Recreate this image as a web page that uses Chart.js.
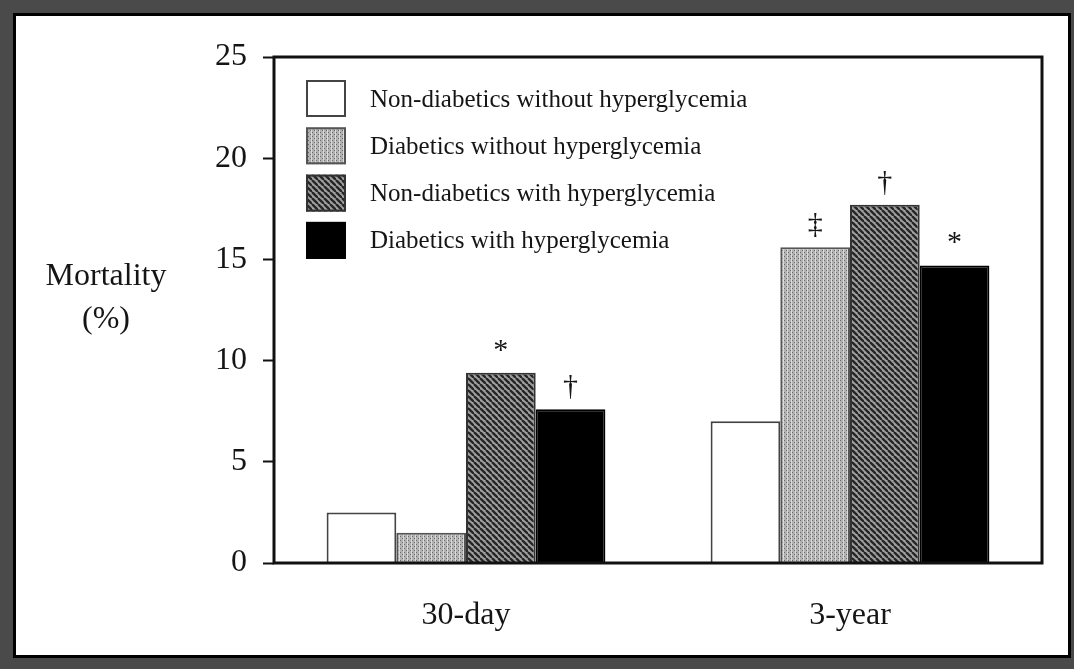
<!DOCTYPE html>
<html>
<head>
<meta charset="utf-8">
<script src="https://cdn.jsdelivr.net/npm/chart.js@4/dist/chart.umd.min.js"></script>
<style>
	body { margin: 0; background: #4a4a4a; width: 1074px; height: 669px; overflow: hidden; position: relative; }
	#frame { position: absolute; left: 13px; top: 13px; width: 1052px; height: 639px; border: 3px solid #000; background: #fff; }
	#chart01 { position: absolute; left: 0; top: 0; }
</style>
</head>
<body>
<div id="frame"></div>
<canvas id="chart01" width="1074" height="669"></canvas>
<script>
const categories = ["30-day", "3-year"];

const nonDiabNoHyper = [2.5, 7.0];
const diabNoHyper = [1.5, 15.6];
const nonDiabHyper = [9.4, 17.7];
const diabHyper = [7.6, 14.7];

// significance marks drawn above each bar
const marksNonDiabNoHyper = ["", ""];
const marksDiabNoHyper = ["", "‡"];
const marksNonDiabHyper = ["*", "†"];
const marksDiabHyper = ["†", "*"];

const serif = "'Liberation Serif', 'Times New Roman', serif";
const ink = "#151515";

function dotPattern() {
	const c = document.createElement("canvas");
	c.width = 4;
	c.height = 4;
	const g = c.getContext("2d");
	g.fillStyle = "#b2b2b2";
	g.fillRect(0, 0, 4, 4);
	g.fillStyle = "#dadada";
	g.fillRect(3, 0, 1, 4);
	g.fillStyle = "#6a6a6a";
	g.fillRect(0, 0, 1, 1);
	g.fillRect(2, 2, 1, 1);
	return g.createPattern(c, "repeat");
}

function hatchPattern() {
	const s = 6;
	const c = document.createElement("canvas");
	c.width = s;
	c.height = s;
	const g = c.getContext("2d");
	g.fillStyle = "#a0a0a0";
	g.fillRect(0, 0, s, s);
	g.strokeStyle = "#262626";
	g.lineWidth = 2.4;
	for (const k of [-s, 0, s]) {
		g.beginPath();
		g.moveTo(k, 0);
		g.lineTo(k + s, s);
		g.stroke();
	}
	return g.createPattern(c, "repeat");
}

const data = {
	labels: categories,
	datasets: [
		{ label: "Non-diabetics without hyperglycemia", data: nonDiabNoHyper, marks: marksNonDiabNoHyper, backgroundColor: "#ffffff", borderColor: "#444" },
		{ label: "Diabetics without hyperglycemia", data: diabNoHyper, marks: marksDiabNoHyper, backgroundColor: dotPattern(), borderColor: "#555" },
		{ label: "Non-diabetics with hyperglycemia", data: nonDiabHyper, marks: marksNonDiabHyper, backgroundColor: hatchPattern(), borderColor: "#333" },
		{ label: "Diabetics with hyperglycemia", data: diabHyper, marks: marksDiabHyper, backgroundColor: "#000000", borderColor: "#000" },
	],
};

// box around the plot, legend inside it, marks above bars, y title
const decorations = {
	id: "decorations",
	afterDraw(chart) {
		const { ctx, chartArea: a } = chart;
		ctx.save();

		ctx.fillStyle = ink;
		ctx.font = "30px " + serif;
		ctx.textAlign = "center";
		ctx.textBaseline = "middle";
		chart.data.datasets.forEach((ds, i) => {
			chart.getDatasetMeta(i).data.forEach((bar, j) => {
				if (ds.marks[j]) ctx.fillText(ds.marks[j], bar.x, bar.y - 22);
			});
		});

		const mid = (a.top + a.bottom) / 2;
		ctx.font = "32px " + serif;
		ctx.fillText("Mortality", a.left - 168, mid - 33);
		ctx.fillText("(%)", a.left - 168, mid + 10);

		ctx.textAlign = "left";
		ctx.font = "25px " + serif;
		chart.data.datasets.forEach((ds, i) => {
			const x = a.left + 32;
			const y = a.top + 23 + i * 47.3;
			ctx.fillStyle = ds.backgroundColor;
			ctx.fillRect(x, y, 40, 37);
			ctx.strokeStyle = ds.borderColor;
			ctx.lineWidth = 2;
			ctx.strokeRect(x + 1, y + 1, 38, 35);
			ctx.fillStyle = ink;
			ctx.fillText(ds.label, a.left + 96, y + 20);
		});

		ctx.strokeStyle = "#111";
		ctx.lineWidth = 3;
		ctx.strokeRect(a.left, a.top, a.right - a.left, a.bottom - a.top);
		ctx.restore();
	},
};

const options = {
	responsive: false,
	animation: false,
	layout: {
		padding: { left: 20, top: 57, right: 32, bottom: 36 },
	},
	plugins: {
		legend: { display: false },
		tooltip: { enabled: false },
	},
	datasets: {
		bar: {
			categoryPercentage: 0.726,
			barPercentage: 1.0,
			borderWidth: 2,
		},
	},
	scales: {
		x: {
			grid: { display: false, drawTicks: false },
			border: { display: false },
			ticks: {
				color: ink,
				padding: 33,
				font: { family: serif, size: 32 },
			},
			afterFit: (scale) => { scale.height = 70; },
		},
		y: {
			min: 0,
			max: 25,
			border: { display: false },
			grid: {
				drawOnChartArea: false,
				drawTicks: true,
				tickLength: 11,
				tickWidth: 2,
				color: "#111",
			},
			ticks: {
				stepSize: 5,
				color: ink,
				padding: 16,
				font: { family: serif, size: 32 },
			},
			afterFit: (scale) => { scale.width = 254; },
		},
	},
};

new Chart(document.querySelector("#chart01"), {
	type: "bar",
	data,
	options,
	plugins: [decorations],
});
</script>
</body>
</html>
